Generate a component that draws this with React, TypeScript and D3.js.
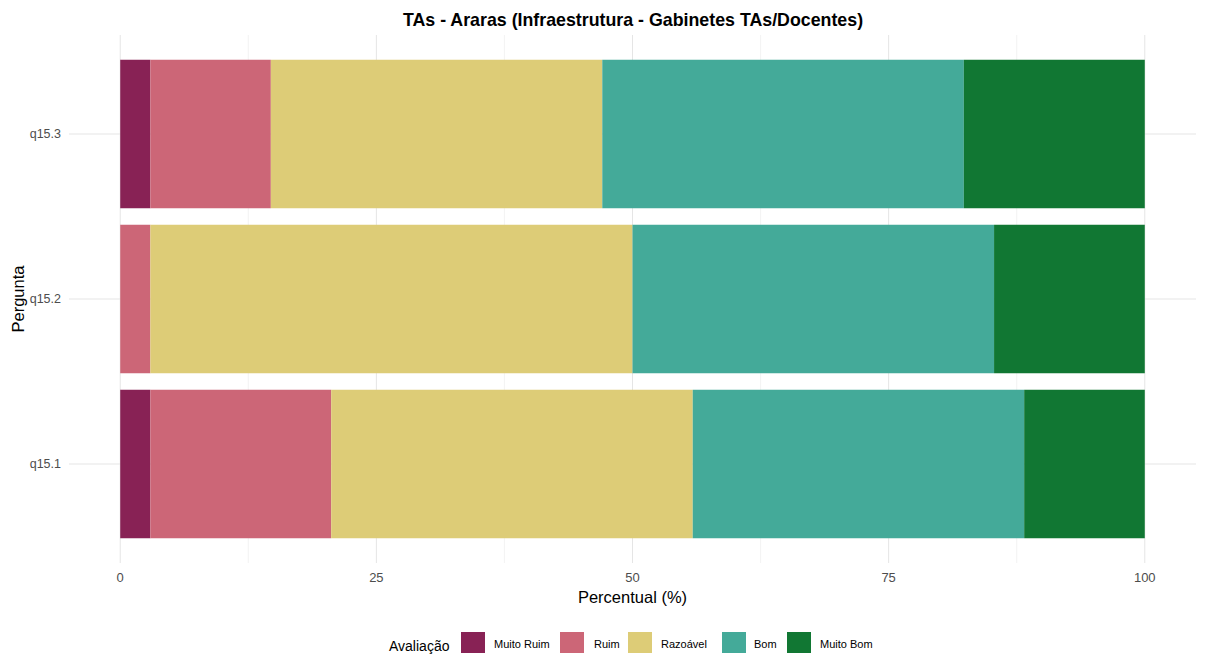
import React from "react";
import * as d3 from "d3";

const questions = ["q15.1", "q15.2", "q15.3"];
const levels = ["Muito Ruim", "Ruim", "Razoável", "Bom", "Muito Bom"];
const colors = ["#882255", "#CC6677", "#DDCC77", "#44AA99", "#117733"];
const q151 = [2.94, 17.65, 35.29, 32.35, 11.76];
const q152 = [0, 2.94, 47.06, 35.29, 14.71];
const q153 = [2.94, 11.76, 32.35, 35.29, 17.65];
const xTicks = [0, 25, 50, 75, 100];
const xMinor = [12.5, 37.5, 62.5, 87.5];

const W = 1210, H = 659;
const margin = { left: 69, right: 14, top: 35, bottom: 96 };

export default function App() {
  const values: Record<string, number[]> = { "q15.1": q151, "q15.2": q152, "q15.3": q153 };
  const x = d3.scaleLinear().domain([-5, 105]).range([margin.left, W - margin.right]);
  // discrete axis with ggplot-style expansion of 0.6 units
  const yLin = d3.scaleLinear().domain([0.4, questions.length + 0.6]).range([H - margin.bottom, margin.top]);
  const yc = (q: string) => yLin(questions.indexOf(q) + 1);
  const unit = Math.abs(yLin(1) - yLin(0));
  const bw = unit * 0.9;
  const font = "Liberation Sans, Arial, sans-serif";

  const legendItems = [
    { x: 461, tx: 494 },
    { x: 560, tx: 594 },
    { x: 628, tx: 661 },
    { x: 722, tx: 754 },
    { x: 787, tx: 820 },
  ];

  return (
    <svg width={W} height={H} style={{ position: "absolute", left: 0, top: 0, background: "#fff" }} fontFamily={font}>
      <rect width={W} height={H} fill="#fff" />
      {xMinor.map((t) => (
        <line key={"m" + t} x1={x(t)} x2={x(t)} y1={margin.top} y2={H - margin.bottom} stroke="#ebebeb" strokeWidth={0.6} />
      ))}
      {xTicks.map((t) => (
        <line key={"g" + t} x1={x(t)} x2={x(t)} y1={margin.top} y2={H - margin.bottom} stroke="#e5e5e5" strokeWidth={1} />
      ))}
      {questions.map((q) => {
        const c = yc(q);
        return <line key={"h" + q} x1={margin.left} x2={W - margin.right} y1={c} y2={c} stroke="#e5e5e5" strokeWidth={1} />;
      })}
      {questions.map((q) => {
        const c = yc(q);
        let cum = 0;
        return (
          <g key={q}>
            {values[q].map((v, i) => {
              const x0 = x(cum);
              cum += v;
              const x1 = i === levels.length - 1 ? x(100) : x(cum);
              if (v <= 0) return null;
              return <rect key={i} x={x0} y={c - bw / 2} width={x1 - x0} height={bw} fill={colors[i]} />;
            })}
          </g>
        );
      })}
      {questions.map((q) => (
        <text key={"yl" + q} x={margin.left - 8} y={yc(q)} dy="0.35em" textAnchor="end" fontSize={12.5} fill="#4d4d4d">
          {q}
        </text>
      ))}
      {xTicks.map((t) => (
        <text key={"xl" + t} x={x(t)} y={H - margin.bottom + 19} textAnchor="middle" fontSize={13} fill="#4d4d4d">
          {t}
        </text>
      ))}
      <text x={(margin.left + W - margin.right) / 2} y={603} textAnchor="middle" fontSize={16.5} fill="#000">
        Percentual (%)
      </text>
      <text transform={`translate(24,${(margin.top + H - margin.bottom) / 2}) rotate(-90)`} textAnchor="middle" fontSize={16.5} fill="#000">
        Pergunta
      </text>
      <text x={633} y={26} textAnchor="middle" fontSize={17.8} fontWeight="bold" fill="#000">
        TAs - Araras (Infraestrutura - Gabinetes TAs/Docentes)
      </text>
      <text x={389} y={651} fontSize={14} fill="#000">Avaliação</text>
      {levels.map((l, i) => (
        <g key={l}>
          <rect x={legendItems[i].x} y={632} width={24} height={21} fill={colors[i]} />
          <text x={legendItems[i].tx} y={644} dy="0.35em" fontSize={11} fill="#000">
            {l}
          </text>
        </g>
      ))}
    </svg>
  );
}
